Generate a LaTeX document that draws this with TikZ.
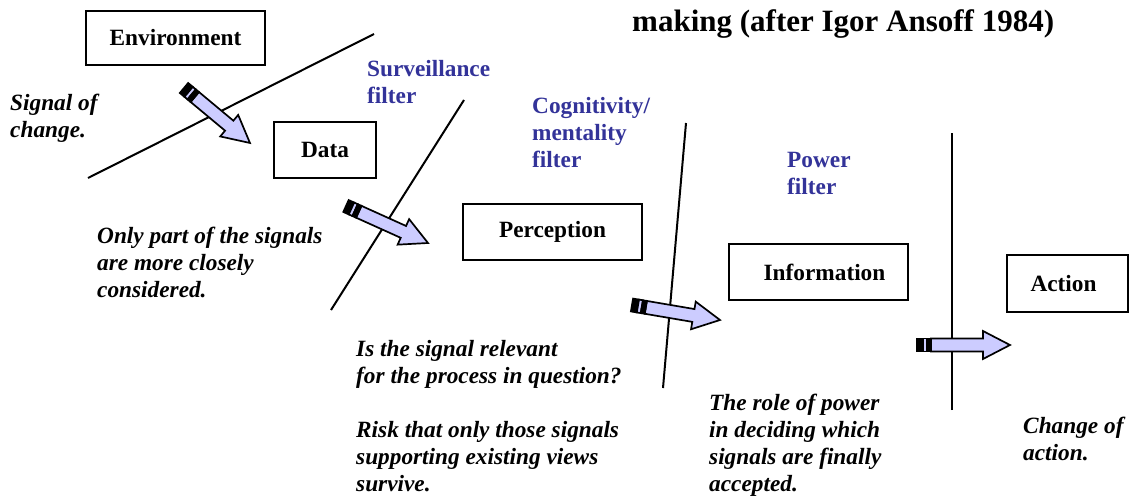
\documentclass[tikz,border=0pt]{standalone}
\usepackage{fontspec}
\setmainfont{Liberation Serif}
\usetikzlibrary{calc}
\definecolor{filterblue}{RGB}{51,51,153}
\definecolor{arrowfill}{RGB}{204,204,255}
\tikzset{
  box/.style={draw=black, line width=2.5pt, inner sep=0pt, font=\fontsize{23.3}{27}\selectfont\bfseries},
  note/.style={anchor=base west, inner sep=0pt, font=\fontsize{23.3}{27}\selectfont\bfseries\itshape},
  filt/.style={anchor=base west, inner sep=0pt, text=filterblue, font=\fontsize{23.3}{27}\selectfont\bfseries},
  filterline/.style={draw=black, line width=2pt},
  arrowline/.style={draw=black, line width=1.7pt, line join=miter},
}
\newcommand\mlines[1]{\vtop{\baselineskip=27pt\lineskiplimit=0pt\halign{##\hfil\cr#1\crcr}}}
\newcommand\stripedarrow[2]{%
  \path let \p1=($(#2)-(#1)$) in \pgfextra{%
    \pgfmathsetmacro\sang{atan2(\y1,\x1)}%
    \pgfmathsetmacro\slen{veclen(\x1,\y1)}%
    \xdef\sAng{\sang}\xdef\sLen{\slen}};
  \begin{scope}[shift={(#1)},rotate=\sAng,x=1pt,y=1pt]
    \filldraw[arrowline, fill=arrowfill] (14,-6.5) -- (\sLen-27,-6.5) -- (\sLen-27,-14) -- (\sLen,0) -- (\sLen-27,14) -- (\sLen-27,6.5) -- (14,6.5) -- cycle;
    \filldraw[arrowline, fill=black] (0,-6.5) rectangle (6,6.5);
    \filldraw[arrowline, fill=arrowfill] (6,-6.5) rectangle (10,6.5);
    \filldraw[arrowline, fill=black] (10,-6.5) rectangle (14,6.5);
  \end{scope}}
\begin{document}
\begin{tikzpicture}[x=1pt,y=-1pt]
\useasboundingbox (0,0) rectangle (1130,498);

% title
\node[anchor=base west, inner sep=0pt, font=\fontsize{31}{36}\selectfont\bfseries] (title) at (632,31) {making (after Igor Ansoff 1984)};

% filter lines
\coordinate (l1a) at (88,178);  \coordinate (l1b) at (374,34);
\coordinate (l2a) at (331,310); \coordinate (l2b) at (464,100);
\coordinate (l3a) at (663,388); \coordinate (l3b) at (686,123);
\coordinate (l4a) at (952,410); \coordinate (l4b) at (952,133);
\draw[filterline] (l1a) -- (l1b);
\draw[filterline] (l2a) -- (l2b);
\draw[filterline] (l3a) -- (l3b);
\draw[filterline] (l4a) -- (l4b);

% boxes
\node[box, minimum width=179pt, minimum height=54pt] (env) at (175.5,38) {Environment};
\node[box, minimum width=102pt, minimum height=56pt] (data) at (325,150) {Data};
\node[box, minimum width=179pt, minimum height=56pt] (perc) at (552.5,232) {Perception};
\node[box, minimum width=179pt, minimum height=56pt] (info) at (818.5,272) {\hspace*{12pt}Information};
\node[box, minimum width=121pt, minimum height=57pt] (act) at (1067.5,283.5) {Action\hspace*{8pt}};

% arrows
\coordinate (a1t) at (184,88);  \coordinate (a1h) at (250,143);
\coordinate (a2t) at (346,206); \coordinate (a2h) at (428,243);
\coordinate (a3t) at (632,305); \coordinate (a3h) at (720,320);
\coordinate (a4t) at (917,345); \coordinate (a4h) at (1010,345);
\stripedarrow{a1t}{a1h}
\stripedarrow{a2t}{a2h}
\stripedarrow{a3t}{a3h}
\stripedarrow{a4t}{a4h}

% filter labels
\node[filt] (f1) at (367,76) {\mlines{Surveillance\cr filter}};
\node[filt] (f2) at (532,113) {\mlines{Cognitivity/\cr mentality\cr filter}};
\node[filt] (f3) at (787,167) {\mlines{Power\cr filter}};

% notes
\node[note] (n1) at (10,110) {\mlines{Signal of\cr change.}};
\node[note] (n2) at (97,243) {\mlines{Only part of the signals\cr are more closely\cr considered.}};
\node[note] (n3) at (356,356) {\mlines{Is the signal relevant\cr for the process in question?\cr \cr Risk that only those signals\cr supporting existing views\cr survive.}};
\node[note] (n4) at (709,410) {\mlines{The role of power\cr in deciding which\cr signals are finally\cr accepted.}};
\node[note] (n5) at (1023,433) {\mlines{Change of\cr action.}};
\end{tikzpicture}
\end{document}
